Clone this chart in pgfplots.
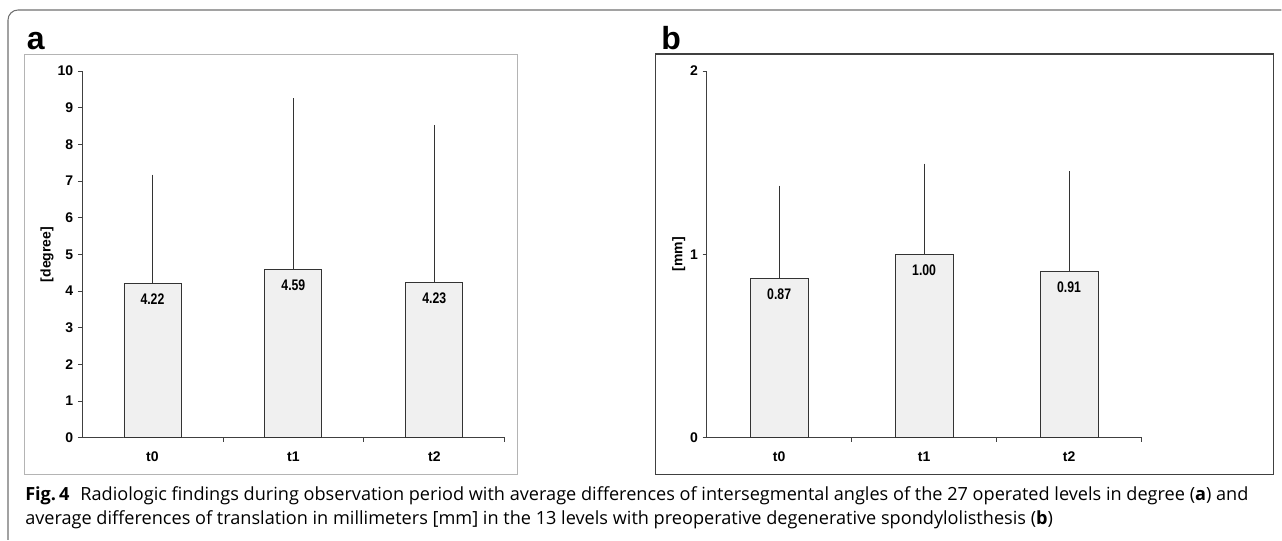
\documentclass[border=0pt]{standalone}
\usepackage{pgfplots}
\pgfplotsset{compat=1.18}
\usepackage{fontspec}
\setmainfont{Liberation Sans}
\newfontfamily\chartfont{Liberation Sans}
\newfontfamily\valfont[FakeStretch=0.8]{Liberation Sans}
\newfontfamily\capfont{Open Sans}

\definecolor{barfill}{HTML}{F0F0F0}
\definecolor{bardraw}{HTML}{333333}
\definecolor{axcol}{HTML}{404040}
\definecolor{framea}{HTML}{B4B4B4}
\definecolor{frameb}{HTML}{404040}
\definecolor{outer}{HTML}{707070}

\pgfplotsset{
  panel/.style={
    scale only axis,
    height=275.25pt,
    axis x line=bottom, axis y line=left,
    axis line style={-, draw=axcol, line width=0.6pt},
    xmin=0, xmax=3, ymin=0,
    xtick={0.5,1.5,2.5}, xticklabels={t0,t1,t2},
    major x tick style={draw=none},
    minor xtick={1,2,3},
    tick style={draw=axcol, line width=0.6pt},
    tick align=outside, major tick length=3pt, minor tick length=3pt,
    /pgf/number format/assume math mode=true,
    ticklabel style={font=\chartfont\bfseries\fontsize{10.5}{12}\selectfont},
    xticklabel style={yshift=-4pt},
    label style={font=\chartfont\bfseries\fontsize{10.5}{12}\selectfont},
    ylabel style={at={(axis description cs:0,0.5)}, anchor=center},
    clip=false,
  },
  barplot/.style={
    ybar, bar shift=0pt, fill=barfill, draw=bardraw, line width=0.6pt,
    nodes near coords={\pgfmathprintnumber[fixed,fixed zerofill,precision=2]{\pgfplotspointmeta}},
    nodes near coords style={anchor=center, yshift=-12pt, text=black,
      font=\valfont\bfseries\fontsize{11.5}{13}\selectfont},
    error bars/.cd, y dir=plus, y explicit,
    error bar style={draw=bardraw, line width=0.6pt},
    error mark options={draw=bardraw, mark size=2pt, line width=0.6pt},
  },
}

\begin{document}
\begin{tikzpicture}
\path (0,0) rectangle (961.5pt,405pt);
% outer frame
\draw[outer, line width=0.8pt, rounded corners=7.5pt] (6pt,0pt) -- (6pt,397.5pt) -- (961.5pt,397.5pt);
% panel frames
\draw[framea, line width=0.6pt] (18pt,48.75pt) rectangle (388.5pt,364.5pt);
\draw[frameb, line width=0.8pt] (492pt,48.75pt) rectangle (955.5pt,364.5pt);
\node[anchor=base west, inner sep=0pt, font=\chartfont\bfseries\fontsize{24}{26}\selectfont] at (20pt,367.5pt) {a};
\node[anchor=base west, inner sep=0pt, font=\chartfont\bfseries\fontsize{24}{26}\selectfont] at (496pt,367.5pt) {b};

% panel a
\begin{axis}[panel, at={(61.5pt,76.5pt)}, anchor=south west,
  width=317.25pt, ymax=10, ytick={0,1,...,10},
  ylabel={[degree]}, ylabel style={yshift=26.25pt}]
\addplot[bar width=42.75pt, barplot] coordinates {
  (0.5,4.22) +- (0,2.88)
  (1.5,4.59) +- (0,4.59)
  (2.5,4.23) +- (0,4.23)
};
\end{axis}

% panel b
\begin{axis}[panel, at={(530.25pt,76.5pt)}, anchor=south west,
  width=326.25pt, ymax=2, ytick={0,1,2},
  ylabel={[mm]}, ylabel style={yshift=21pt}]
\addplot[bar width=43.5pt, barplot] coordinates {
  (0.5,0.87) +- (0,0.49)
  (1.5,1.00) +- (0,0.48)
  (2.5,0.91) +- (0,0.53)
};
\end{axis}

% caption
\node[anchor=base west, inner sep=0pt, font=\capfont\fontsize{13.6}{16}\selectfont] at (18.75pt,29.25pt)
  {\textbf{Fig.\,4}\hspace{0.6em}Radiologic findings during observation period with average differences of intersegmental angles of the 27 operated levels in degree (\textbf{a}) and};
\node[anchor=base west, inner sep=0pt, font=\capfont\fontsize{13.6}{16}\selectfont] at (18.75pt,11.25pt)
  {average differences of translation in millimeters [mm] in the 13 levels with preoperative degenerative spondylolisthesis (\textbf{b})};
\end{tikzpicture}
\end{document}
